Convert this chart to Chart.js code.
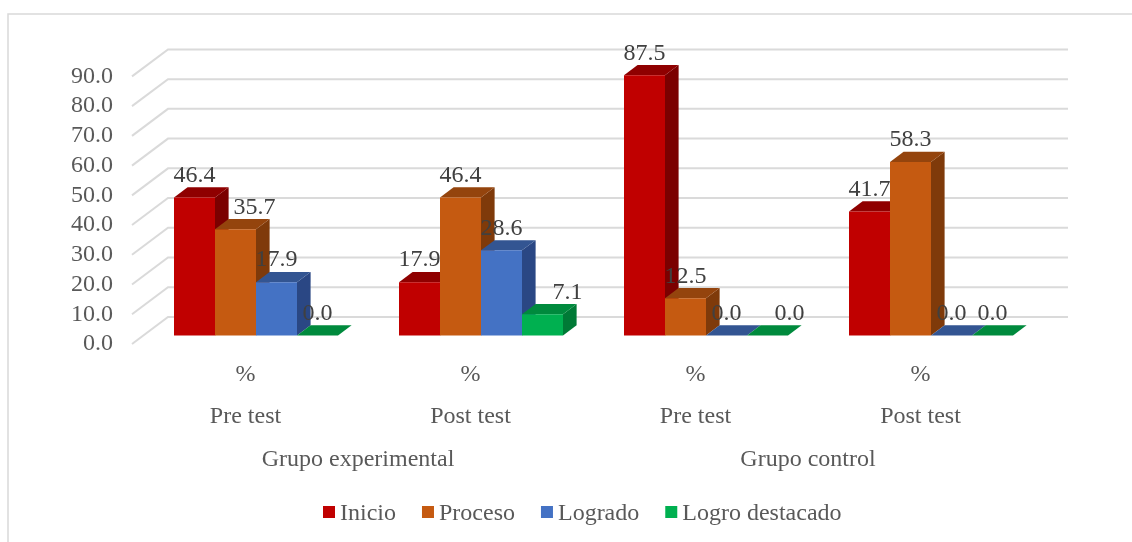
<!DOCTYPE html>
<html lang="es">
<head>
<meta charset="utf-8">
<title>Niveles por grupo y momento</title>
<style>
  html, body { margin: 0; padding: 0; background: #fff; }
  canvas { display: block; }
</style>
<script src="https://cdn.jsdelivr.net/npm/chart.js@4/dist/chart.umd.min.js"></script>
</head>
<body>
<canvas id="chart" width="1132" height="542"></canvas>
<script>
// Tick labels
const categories = [["%", "Pre test"], ["%", "Post test"], ["%", "Pre test"], ["%", "Post test"]];
const groups = ["Grupo experimental", "Grupo control"];

// Percentages per level
const inicio = [46.4, 17.9, 87.5, 41.7];
const proceso = [35.7, 46.4, 12.5, 58.3];
const logrado = [17.9, 28.6, 0.0, 0.0];
const logroDestacado = [0.0, 7.1, 0.0, 0.0];

// Face colours of each extruded bar
const faces = [
  { front: "#C00000", top: "#8F0000", side: "#7B0000" },
  { front: "#C55A11", top: "#94440D", side: "#7F3A0A" },
  { front: "#4472C4", top: "#335592", side: "#2A4784" },
  { front: "#00B050", top: "#008A3D", side: "#007A36" }
];

const FONT = '"Liberation Serif", "Times New Roman", serif';
const WALL = { dx: 36, dy: -27 };        // depth of the back wall
const BAR_DEPTH = { dx: 13.6, dy: -10.2 };
const BAR_SHIFT = { dx: 10.5, dy: -8.6 }; // bars stand mid-way across the floor

// Sideways nudges of value labels that would otherwise sit on a neighbouring bar,
// keyed by category:series
const labelNudge = { "0:1": 19, "1:3": 25, "2:3": 22 };

const frame3d = {
  id: "frame3d",
  beforeDraw(chart) {
    const { ctx, chartArea: a, scales: { y } } = chart;
    ctx.save();
    ctx.fillStyle = "#fff";
    ctx.fillRect(0, 0, chart.width, chart.height);

    // outer border, open on the right and at the bottom
    ctx.strokeStyle = "#D9D9D9";
    ctx.lineWidth = 1.5;
    ctx.beginPath();
    ctx.moveTo(8, 542);
    ctx.lineTo(8, 14);
    ctx.lineTo(1132, 14);
    ctx.stroke();

    // gridlines running over the side wall and the back wall
    ctx.lineWidth = 2;
    ctx.strokeStyle = "#DADADA";
    ctx.beginPath();
    y.ticks.forEach(t => {
      const py = y.getPixelForValue(t.value);
      ctx.moveTo(a.left - 1, py);
      ctx.lineTo(a.left - 1 + WALL.dx, py + WALL.dy);
      ctx.lineTo(a.right + WALL.dx - 1, py + WALL.dy);
    });
    ctx.stroke();
    ctx.restore();
  },
  beforeDatasetsDraw(chart) {
    const { ctx } = chart;
    ctx.save();
    ctx.translate(BAR_SHIFT.dx, BAR_SHIFT.dy);
    chart.data.datasets.forEach((ds, i) => {
      const f = faces[i];
      chart.getDatasetMeta(i).data.forEach(bar => {
        const l = bar.x - bar.width / 2, r = bar.x + bar.width / 2;
        const t = bar.y, b = bar.base;
        const { dx, dy } = BAR_DEPTH;
        ctx.fillStyle = f.side;
        ctx.beginPath();
        ctx.moveTo(r, b);
        ctx.lineTo(r + dx, b + dy);
        ctx.lineTo(r + dx, t + dy);
        ctx.lineTo(r, t);
        ctx.closePath();
        ctx.fill();
        ctx.fillStyle = f.top;
        ctx.beginPath();
        ctx.moveTo(l, t);
        ctx.lineTo(l + dx, t + dy);
        ctx.lineTo(r + dx, t + dy);
        ctx.lineTo(r, t);
        ctx.closePath();
        ctx.fill();
        bar.draw(ctx);
      });
    });
    ctx.restore();
  },
  // bars are painted above, series by series from left to right
  beforeDatasetDraw() { return false; },
  afterDatasetsDraw(chart) {
    const { ctx } = chart;
    ctx.save();
    ctx.font = "24px " + FONT;
    ctx.fillStyle = "#404040";
    ctx.textAlign = "center";
    ctx.textBaseline = "middle";
    chart.data.datasets.forEach((ds, i) => {
      chart.getDatasetMeta(i).data.forEach((bar, j) => {
        const nudge = labelNudge[j + ":" + i] || 0;
        ctx.fillText(ds.data[j].toFixed(1), bar.x + BAR_SHIFT.dx + nudge, bar.y + BAR_SHIFT.dy - 22);
      });
    });

    // legend row
    let x = 323;
    const yMid = 512;
    ctx.textAlign = "left";
    chart.data.datasets.forEach((ds, i) => {
      ctx.fillStyle = faces[i].front;
      ctx.fillRect(x, yMid - 6, 12, 12);
      ctx.fillStyle = "#595959";
      ctx.fillText(ds.label, x + 17, yMid + 2);
      x += 17 + ctx.measureText(ds.label).width + 26;
    });
    ctx.restore();
  }
};

const seriesNames = ["Inicio", "Proceso", "Logrado", "Logro destacado"];
const seriesValues = [inicio, proceso, logrado, logroDestacado];

new Chart(document.getElementById("chart"), {
  type: "bar",
  data: {
    labels: categories,
    datasets: seriesNames.map((label, i) => ({
      label,
      data: seriesValues[i],
      backgroundColor: faces[i].front,
      borderWidth: 0,
      categoryPercentage: 164 / 225,
      barPercentage: 1
    }))
  },
  plugins: [frame3d],
  options: {
    responsive: false,
    animation: false,
    layout: { padding: { left: 0, top: 76.4, right: 99, bottom: 0 } },
    font: { family: FONT },
    plugins: { legend: { display: false }, tooltip: { enabled: false } },
    scales: {
      y: {
        min: 0,
        max: 90,
        afterFit(s) { s.width = 133; },
        grid: { display: false, drawTicks: false },
        border: { display: false },
        ticks: {
          stepSize: 10,
          autoSkip: false,
          padding: 20,
          color: "#595959",
          font: { family: FONT, size: 24 },
          callback: v => v.toFixed(1)
        }
      },
      x: {
        afterFit(s) { s.height = 96; },
        grid: { display: false, drawTicks: false },
        border: { display: false },
        ticks: {
          autoSkip: false,
          maxRotation: 0,
          padding: 10,
          color: "#595959",
          font: { family: FONT, size: 24, lineHeight: 1.75 }
        }
      },
      x2: {
        type: "category",
        labels: groups,
        position: "bottom",
        weight: 1,
        offset: true,
        afterFit(s) { s.height = 102; },
        grid: { display: false, drawTicks: false },
        border: { display: false },
        ticks: {
          autoSkip: false,
          maxRotation: 0,
          padding: 5,
          color: "#595959",
          font: { family: FONT, size: 24 }
        }
      }
    }
  }
});
</script>
</body>
</html>
